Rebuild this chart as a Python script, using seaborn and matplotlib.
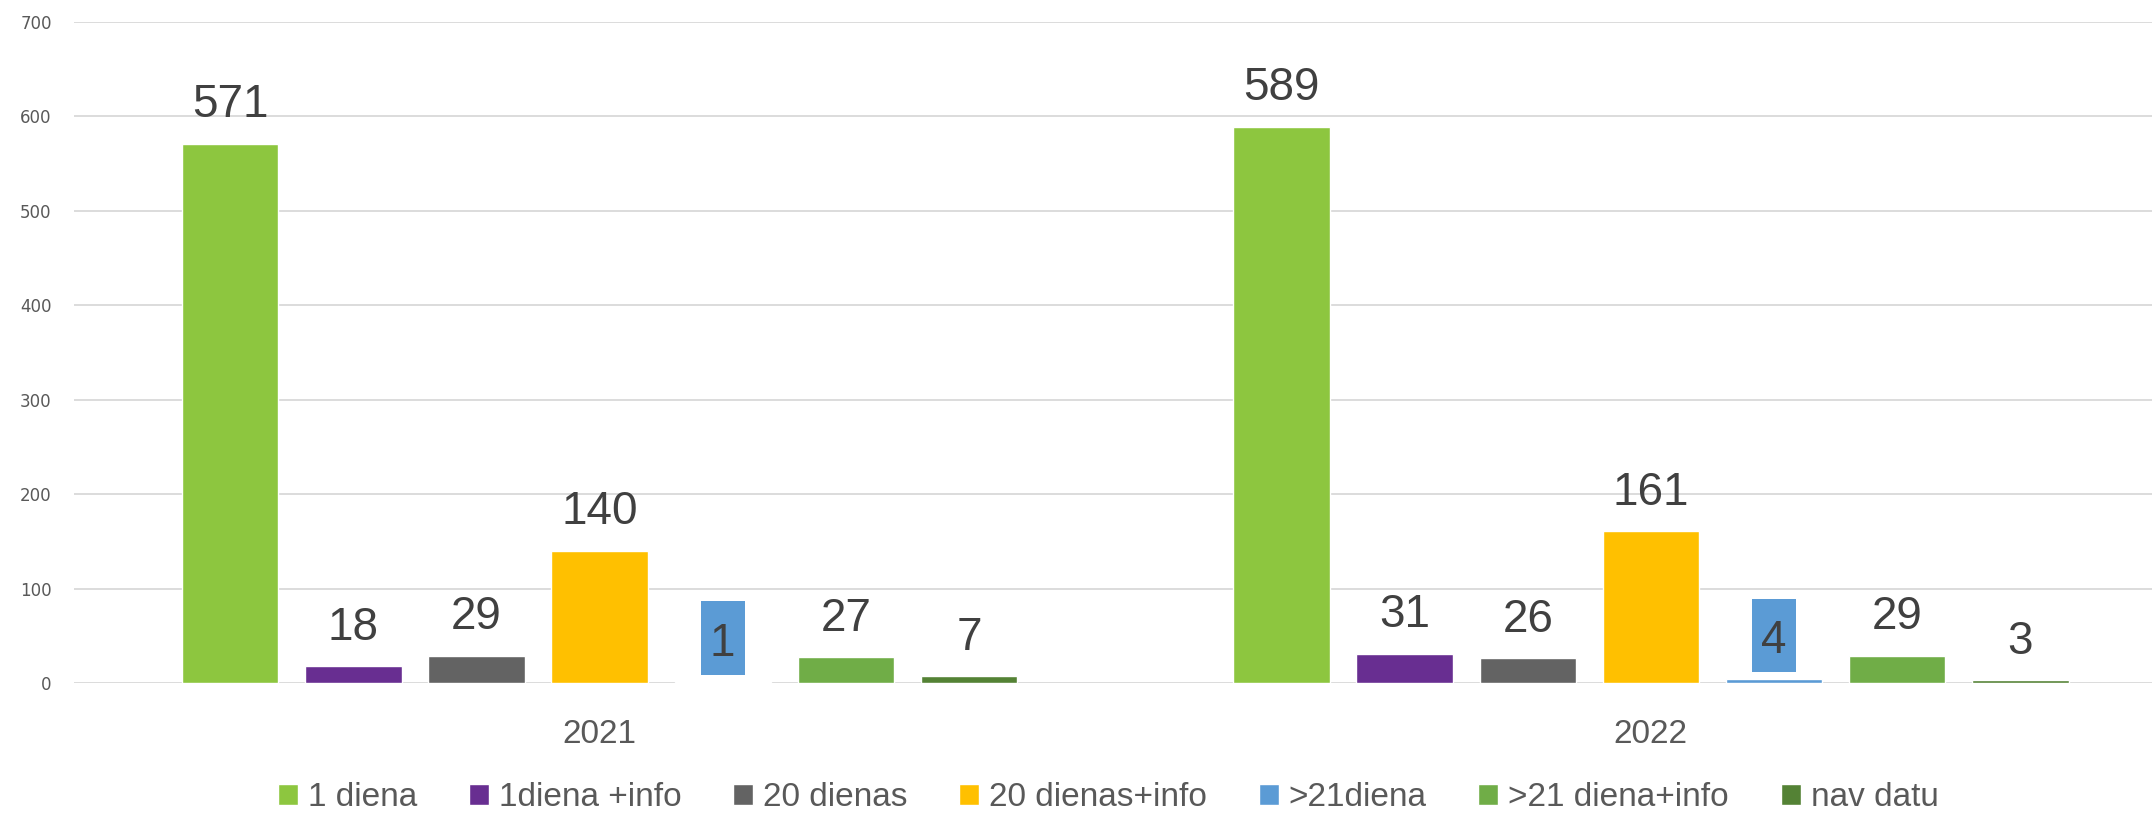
import pandas as pd
import seaborn as sns
import matplotlib
matplotlib.use("Agg")
import matplotlib.pyplot as plt
from matplotlib.path import Path

years = ["2021", "2022"]
categories = ["1 diena", "1diena +info", "20 dienas", "20 dienas+info",
              ">21diena", ">21 diena+info", "nav datu"]
values_2021 = [571, 18, 29, 140, 1, 27, 7]
values_2022 = [589, 31, 26, 161, 4, 29, 3]
colors = ["#8DC63F", "#682E91", "#636363", "#FFC000", "#5B9BD5", "#70AD47", "#548235"]

df = pd.DataFrame({
    "year": [years[0]] * len(categories) + [years[1]] * len(categories),
    "type": categories + categories,
    "count": values_2021 + values_2022,
})


def label_box(x0, y0, width, height, mutation_size):
    # rectangle with more room on top, like the excel data label box
    px = 0.2 * mutation_size
    pb = 0.2 * mutation_size
    pt = 0.44 * mutation_size
    x1, y1 = x0 - px, y0 - pb
    x2, y2 = x0 + width + px, y0 + height + pt
    return Path([(x1, y1), (x2, y1), (x2, y2), (x1, y2), (x1, y1)], closed=True)


sns.set_style("white")
plt.rcParams["font.family"] = ["DejaVu Sans"]

fig = plt.figure(figsize=(21.56, 8.15), dpi=100)
ax = fig.add_axes([0.0343, 0.162, 0.964, 0.811])

sns.barplot(data=df, x="year", y="count", hue="type", hue_order=categories,
            palette=colors, width=0.82, gap=0.217, saturation=1, ax=ax,
            legend=True, errorbar=None)

ax.set_ylim(0, 700)
ax.set_yticks(range(0, 701, 100))
ax.set_xlim(-0.5, 1.477)
ax.grid(axis="y", color="#d9d9d9", linewidth=1.3)
ax.set_axisbelow(True)
for s in ax.spines.values():
    s.set_visible(False)
ax.tick_params(axis="both", length=0)
ax.tick_params(axis="y", labelsize=12, labelcolor="#595959", pad=16)
for t in ax.get_xticklabels():
    t.set_fontfamily("Liberation Sans")
    t.set_fontsize(24)
    t.set_color("#595959")
ax.tick_params(axis="x", pad=26)
ax.set_xlabel("")
ax.set_ylabel("")

# data labels
for i, cont in enumerate(ax.containers):
    boxed = categories[i] == ">21diena"
    for bar in cont:
        h = bar.get_height()
        ax.annotate(f"{h:.0f}", (bar.get_x() + bar.get_width() / 2, h),
                    xytext=(0, 19), textcoords="offset points",
                    ha="center", va="baseline", fontsize=33,
                    family="Liberation Sans", color="#404040",
                    bbox=dict(boxstyle=label_box, fc=colors[i], ec="none") if boxed else None)

handles, labels = ax.get_legend_handles_labels()
ax.get_legend().remove()
fig.legend(handles, labels, loc="center", bbox_to_anchor=(0.514, 0.021),
           ncol=7, frameon=False, handlelength=0.6, handleheight=0.6,
           handletextpad=0.3, columnspacing=1.55,
           prop={"family": "Liberation Sans", "size": 24},
           labelcolor="#595959")

fig.savefig("out.png", dpi=100)
